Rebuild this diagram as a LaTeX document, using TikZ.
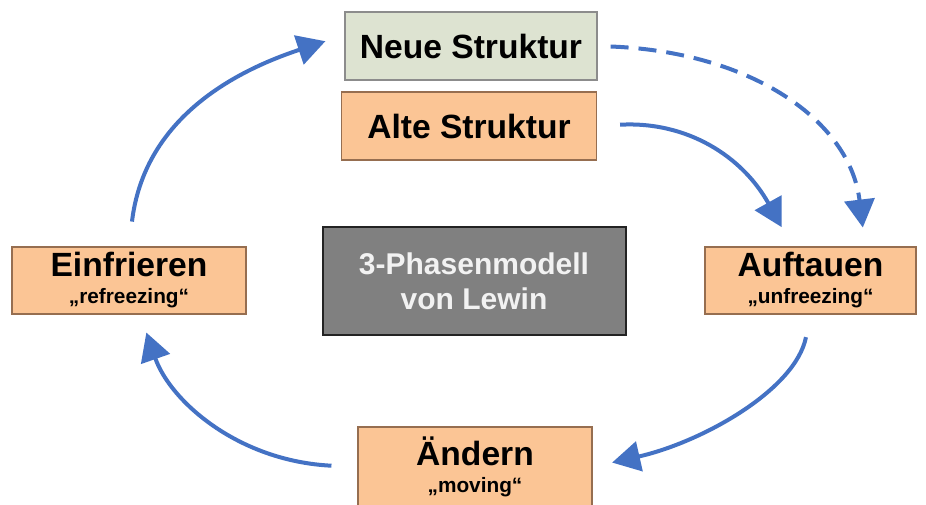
\documentclass[tikz,border=0pt]{standalone}
\usepackage{fontspec}
\setmainfont{Liberation Sans}
\usetikzlibrary{arrows.meta}
\definecolor{flowblue}{RGB}{68,114,196}
\definecolor{greenfill}{RGB}{221,227,209}
\definecolor{greenline}{RGB}{140,140,140}
\definecolor{orangefill}{RGB}{251,197,149}
\definecolor{orangeline}{RGB}{150,110,80}
\definecolor{modelfill}{RGB}{128,128,128}
\definecolor{modelline}{RGB}{35,35,35}
\definecolor{modeltext}{RGB}{242,242,242}
\newcommand{\phasename}[1]{{\fontsize{16.8}{13.5}\selectfont #1}}
\begin{document}
\begin{tikzpicture}[x=0.5pt,y=-0.5pt,
  phase/.style={draw=orangeline,fill=orangefill,line width=0.6pt,inner sep=0pt,align=center,
    font=\bfseries\fontsize{10.4}{13.5}\selectfont},
  struct/.style={line width=0.6pt,inner sep=0pt,font=\bfseries\fontsize{16.8}{20}\selectfont},
  flow/.style={draw=flowblue,line width=2pt,-{Triangle[length=14pt,width=15pt]}}]
  \useasboundingbox (0,0) rectangle (926,504);
  % boxes
  \node[struct,draw=greenline,fill=greenfill,minimum width=126pt,minimum height=34pt] (neu) at (471,46) {Neue Struktur};
  \node[struct,draw=orangeline,fill=orangefill,minimum width=127.5pt,minimum height=34pt] (alt) at (469,126) {Alte Struktur};
  \node[draw=modelline,fill=modelfill,line width=1pt,minimum width=151.5pt,minimum height=54pt,
    text=modeltext,align=center,font=\bfseries\fontsize{15}{17.5}\selectfont] (modell) at (474,281) {3-Phasenmodell\\von Lewin};
  \node[phase,minimum width=117pt,minimum height=33.5pt] (ein) at (129,280.5) {\phasename{Einfrieren}\\„refreezing“};
  \node[phase,minimum width=105.5pt,minimum height=33.5pt] (auf) at (810.5,280.5) {\phasename{Auftauen}\\„unfreezing“};
  \node[phase,minimum width=117pt,minimum height=40pt] (aend) at (475,467) {\phasename{Ändern}\\„moving“};
  % cycle
  \draw[flow,shorten <=12.5pt,shorten >=10pt] (ein.north) .. controls +(15,-125) and +(-115,38) .. (neu.175);
  \draw[flow,shorten <=11.5pt,shorten >=11pt] (alt.east) .. controls +(90,-5) and +(-50,-90) .. (auf.118);
  \draw[flow,dash pattern=on 9pt off 5pt,shorten <=6.5pt,shorten >=9.5pt] (neu.east) .. controls +(155,6) and +(-15,-125) .. (auf.32);
  \draw[flow,shorten <=11.5pt,shorten >=10pt] (auf.south) .. controls +(-15,75) and +(110,-25) .. (aend.east);
  \draw[flow,shorten <=13pt,shorten >=9.5pt] (aend.west) .. controls +(-120,-6) and +(30,86) .. (ein.-72);
\end{tikzpicture}
\end{document}
